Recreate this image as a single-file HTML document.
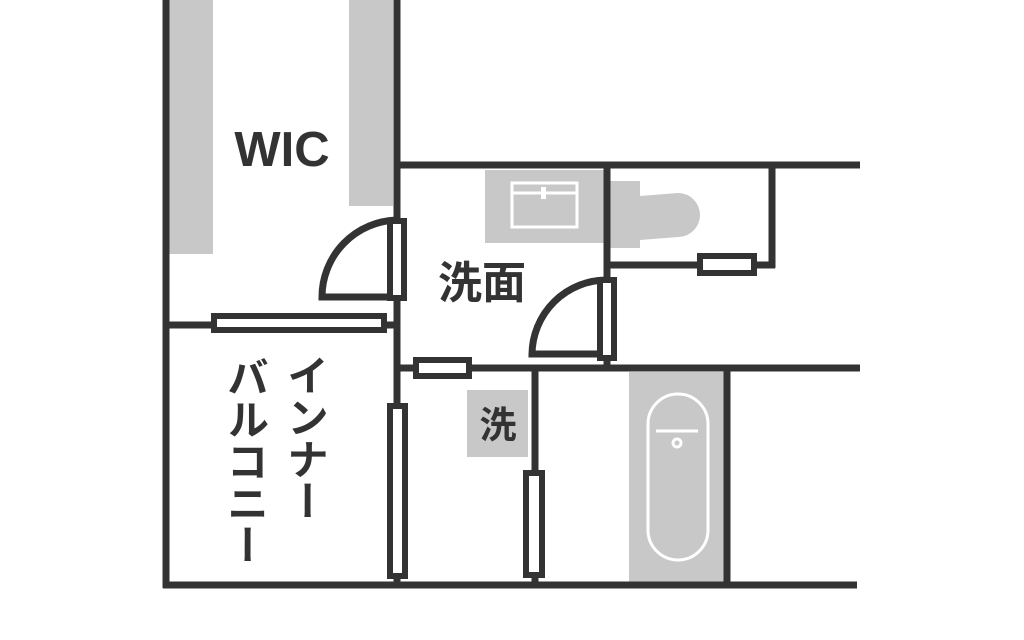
<!DOCTYPE html>
<html><head><meta charset="utf-8"><style>
html,body{margin:0;padding:0;background:#fff;width:1024px;height:640px;overflow:hidden}
svg{display:block}
text{font-family:"Liberation Sans","Noto Sans CJK JP",sans-serif;fill:#333}
</style></head><body>
<svg width="1024" height="640" viewBox="0 0 1024 640" xmlns="http://www.w3.org/2000/svg">
<g fill="#c8c8c8">
<rect x="169" y="0" width="44" height="254"/>
<rect x="349" y="0" width="44" height="206"/>
<rect x="485" y="170" width="120" height="73"/>
<rect x="607" y="181" width="33" height="67"/>
<path d="M640 196 L678 193 A22 22 0 0 1 678 237 L640 240 Z"/>
<rect x="467" y="390" width="61" height="67"/>
<rect x="629" y="372" width="95" height="211"/>
</g>
<g fill="none" stroke="#fff" stroke-width="3">
<rect x="512" y="183" width="65" height="44"/>
<line x1="512" y1="193" x2="577" y2="193"/>
<rect x="541" y="187" width="5" height="12" fill="#fff" stroke="none"/>
<rect x="648" y="394" width="60" height="166" rx="30"/>
<line x1="656" y1="431" x2="698" y2="431"/>
<circle cx="677" cy="443" r="4"/>
</g>
<g stroke="#333" stroke-width="7" fill="none">
<line x1="166" y1="0" x2="166" y2="588"/>
<line x1="397" y1="0" x2="397" y2="588"/>
<line x1="397" y1="165" x2="860" y2="165"/>
<line x1="607" y1="165" x2="607" y2="368"/>
<line x1="397" y1="368" x2="860" y2="368"/>
<line x1="163" y1="585" x2="857" y2="585"/>
<line x1="535" y1="368" x2="535" y2="585"/>
<line x1="727" y1="368" x2="727" y2="585"/>
<line x1="772" y1="165" x2="772" y2="268"/>
<line x1="607" y1="265" x2="775" y2="265"/>
<line x1="166" y1="325" x2="397" y2="325"/>
<path d="M397 220 A77 77 0 0 0 322 297 L397 297"/>
<path d="M607 280 A75 75 0 0 0 532 354 L607 354"/>
</g>
<g stroke="#333" stroke-width="6" fill="#fff">
<rect x="214" y="316" width="170" height="14"/>
<rect x="390" y="221" width="14" height="77"/>
<rect x="600" y="280" width="14" height="78"/>
<rect x="700" y="256" width="54" height="17"/>
<rect x="416" y="360" width="53" height="16"/>
<rect x="390" y="406" width="15" height="170"/>
<rect x="526" y="473" width="16" height="102"/>
</g>
<text x="282" y="166" font-size="49" font-weight="bold" text-anchor="middle">WIC</text>
<text x="482" y="298" font-size="44" font-weight="bold" text-anchor="middle">洗面</text>
<text x="498" y="438" font-size="37" font-weight="bold" text-anchor="middle">洗</text>
<text x="305" y="354" font-size="42" font-weight="bold" style="writing-mode:vertical-rl">インナー</text>
<text x="245" y="356" font-size="42" font-weight="bold" style="writing-mode:vertical-rl">バルコニー</text>
</svg>
</body></html>
